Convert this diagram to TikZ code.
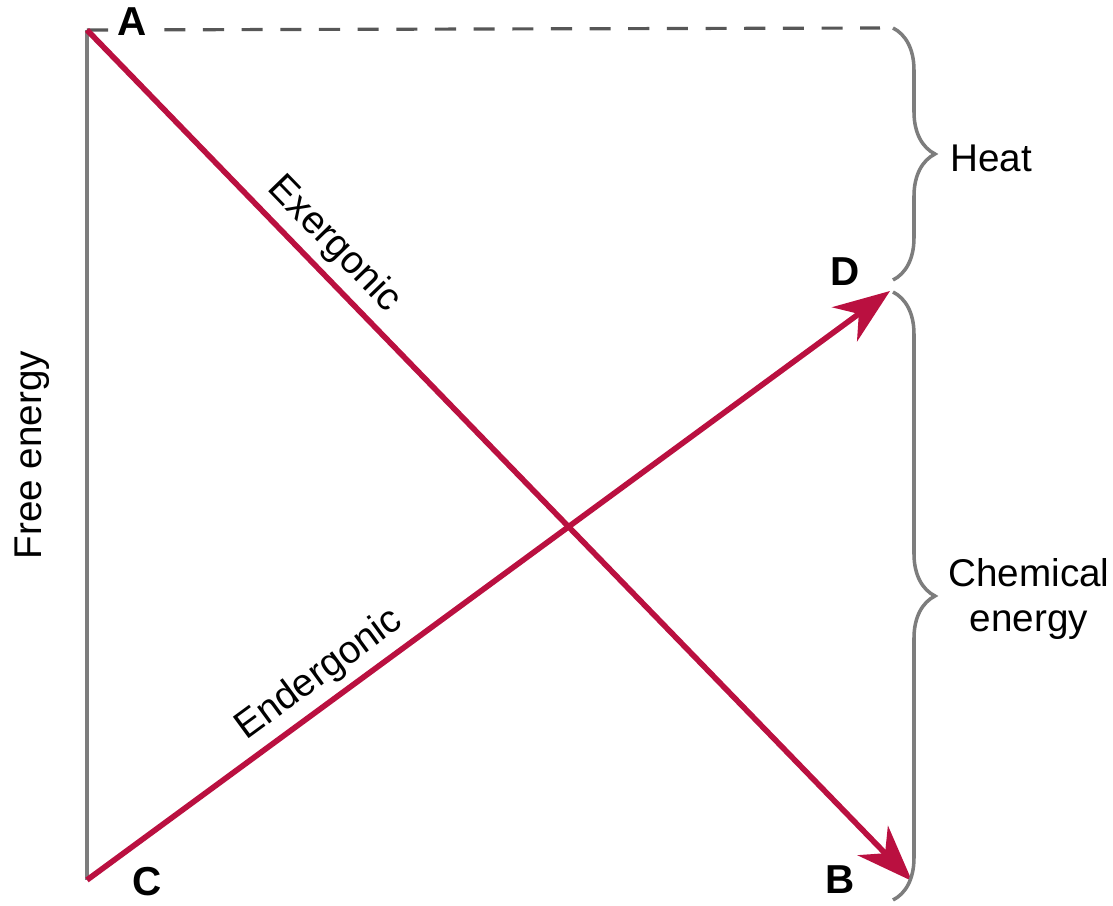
\documentclass[tikz,border=0pt]{standalone}
\usepackage{fontspec}
\setmainfont{Liberation Sans}
\usetikzlibrary{arrows.meta,decorations.pathreplacing}
\definecolor{rxnred}{RGB}{186,16,64}
\definecolor{axisgray}{RGB}{125,125,125}
\begin{document}
\begin{tikzpicture}[
  rxn/.style={draw=rxnred, line width=1.6pt},
  rxnarrow/.style={rxn, -{Stealth[length=16pt, width=12pt, inset=5pt]}},
  letter/.style={font=\bfseries\fontsize{11.5}{14}\selectfont, inner sep=1pt},
  side/.style={font=\fontsize{11}{13}\selectfont, align=center},
  bracebar/.style={draw=axisgray, line width=1pt, decorate,
    decoration={brace, amplitude=0.42cm}}]
  \useasboundingbox (0,0) rectangle (11.13,9.06);

  % corners of the diagram
  \coordinate (a) at (0.87,8.76);
  \coordinate (c) at (0.87,0.26);
  \coordinate (b) at (9.12,0.25);
  \coordinate (d) at (8.90,6.15);
  \coordinate (top) at (8.80,8.78);

  % axis and dashed level
  \draw[axisgray, line width=1.2pt] (a) -- (c);
  \draw[axisgray!70!black, dashed, dash pattern=on 6pt off 5pt, line width=0.9pt] (a) -- (top);
  \node[letter, fill=white] (la) at (1.32,8.84) {A};
  \node[letter] (lb) at (8.40,0.26) {B};
  \node[letter] (lc) at (1.47,0.24) {C};
  \node[letter] (ld) at (8.45,6.34) {D};
  \node[side, rotate=90] (fe) at (0.32,4.51) {Free energy};

  % the two reactions
  \draw[rxnarrow] (a) -- node[pos=0.275, above, sloped, side, inner sep=2pt] (ex) {Exergonic} (b);
  \draw[rxnarrow] (c) -- node[pos=0.31, above, sloped, side, inner sep=2pt] (en) {Endergonic} (d);

  % braces
  \draw[bracebar] (8.93,8.78) -- (8.93,6.26);
  \draw[bracebar] (8.93,6.14) -- (8.93,0.06);
  \node[side, anchor=west] (heat) at (9.38,7.48) {Heat};
  \node[side, anchor=west] (chem) at (9.36,3.07) {Chemical\\energy};
\end{tikzpicture}
\end{document}
